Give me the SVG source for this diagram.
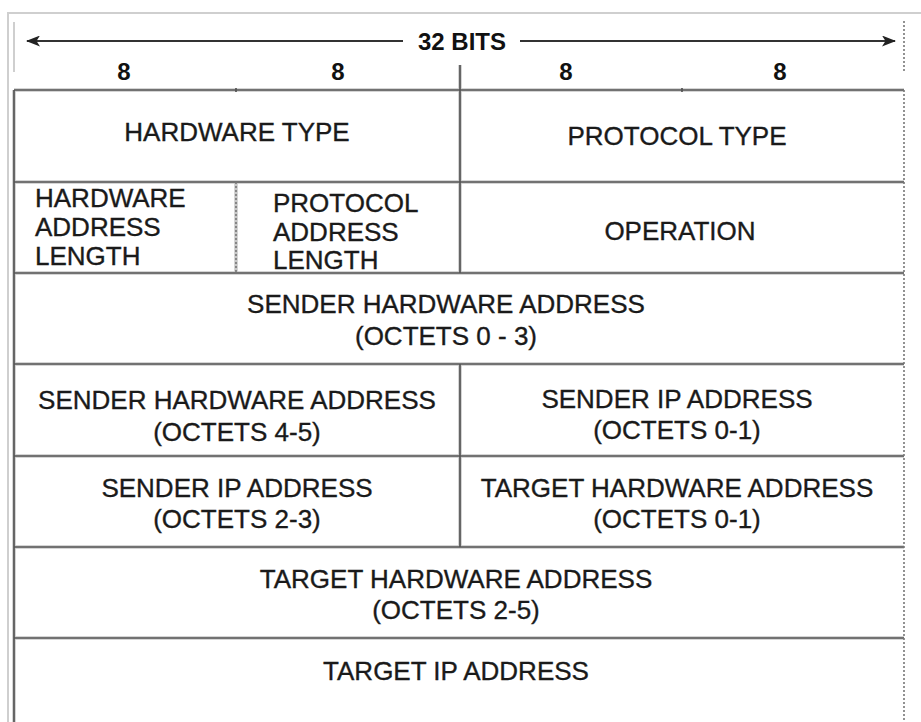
<svg xmlns="http://www.w3.org/2000/svg" width="921" height="722" viewBox="0 0 921 722">
  <style>
    .t { font-family: "Liberation Sans", Arial, Helvetica, sans-serif; font-size: 26px; fill: #1a1a1a; stroke: #1a1a1a; stroke-width: 0.35; }
    .c { text-anchor: middle; }
    .b { font-family: "Liberation Sans", Arial, Helvetica, sans-serif; font-weight: bold; font-size: 24px; fill: #111; text-anchor: middle; }
    .grid { stroke: #555; stroke-width: 1.7; fill: none; }
    .halo { stroke: #c8c8c8; stroke-width: 3.5; fill: none; }
    .frame { stroke: #cfcfcf; stroke-width: 2; fill: none; }
    .dot { stroke: #777; stroke-width: 1.6; stroke-dasharray: 2 2; fill: none; }
    .arrow { stroke: #333; stroke-width: 1.9; fill: none; }
  </style>
  <defs>
    <marker id="head" viewBox="0 0 14 11" refX="13" refY="5.5" markerWidth="14" markerHeight="11" markerUnits="userSpaceOnUse" orient="auto-start-reverse">
      <path d="M0,0 L14,5.5 L0,11 L3.5,5.5 Z" fill="#222"/>
    </marker>
  </defs>
  <rect width="921" height="722" fill="#fff"/>

  <!-- outer page frame -->
  <g id="frame">
    <path class="frame" d="M8,722 V13 H921"/>
    <path class="frame" d="M14,22 V72" stroke-width="1.5"/>
    <path class="dot" d="M904,21 V72"/>
  </g>

  <!-- width scale -->
  <g id="scale">
    <line class="arrow" x1="403" y1="41" x2="27" y2="41" marker-end="url(#head)"/>
    <line class="arrow" x1="520" y1="41" x2="895" y2="41" marker-end="url(#head)"/>
    <text class="b" x="462" y="50">32 BITS</text>
    <text class="b" x="124" y="80">8</text>
    <text class="b" x="338" y="80">8</text>
    <text class="b" x="566" y="80">8</text>
    <text class="b" x="780" y="80">8</text>
  </g>

  <!-- field boundaries -->
  <g id="connectors">
    <g class="halo">
      <path d="M14,90 H904 M14,182 H904 M14,273 H904 M14,364 H904 M14,456 H904 M14,547 H904 M14,638 H904"/>
      <path d="M460,65 V273 M236,182 V273 M460,364 V547 M14,90 V722"/>
    </g>
    <g class="grid">
      <path d="M14,90 H904 M14,182 H904 M14,273 H904 M14,364 H904 M14,456 H904 M14,547 H904 M14,638 H904"/>
      <path d="M460,65 V273 M460,364 V547 M14,90 V722"/>
    </g>
    <path class="dot" d="M236,182 V273"/>
    <path class="dot" d="M904,90 V722"/>
    <path class="grid" d="M236,88 V92 M682,88 V92"/>
  </g>

  <g id="hardware-type"><text class="t c" x="237" y="141">HARDWARE TYPE</text></g>
  <g id="protocol-type"><text class="t c" x="677" y="145">PROTOCOL TYPE</text></g>

  <g id="hardware-address-length">
    <text class="t" x="35" y="207">HARDWARE</text>
    <text class="t" x="35" y="236">ADDRESS</text>
    <text class="t" x="35" y="265">LENGTH</text>
  </g>
  <g id="protocol-address-length">
    <text class="t" x="273" y="212">PROTOCOL</text>
    <text class="t" x="273" y="241">ADDRESS</text>
    <text class="t" x="273" y="269">LENGTH</text>
  </g>
  <g id="operation"><text class="t c" x="680" y="240">OPERATION</text></g>

  <g id="sender-hw-0-3">
    <text class="t c" x="446" y="313">SENDER HARDWARE ADDRESS</text>
    <text class="t c" x="446" y="345">(OCTETS 0 - 3)</text>
  </g>

  <g id="sender-hw-4-5">
    <text class="t c" x="237" y="409">SENDER HARDWARE ADDRESS</text>
    <text class="t c" x="237" y="441">(OCTETS 4-5)</text>
  </g>
  <g id="sender-ip-0-1">
    <text class="t c" x="677" y="408">SENDER IP ADDRESS</text>
    <text class="t c" x="677" y="439">(OCTETS 0-1)</text>
  </g>

  <g id="sender-ip-2-3">
    <text class="t c" x="237" y="497">SENDER IP ADDRESS</text>
    <text class="t c" x="237" y="528">(OCTETS 2-3)</text>
  </g>
  <g id="target-hw-0-1">
    <text class="t c" x="677" y="497">TARGET HARDWARE ADDRESS</text>
    <text class="t c" x="677" y="528">(OCTETS 0-1)</text>
  </g>

  <g id="target-hw-2-5">
    <text class="t c" x="456" y="588">TARGET HARDWARE ADDRESS</text>
    <text class="t c" x="456" y="619">(OCTETS 2-5)</text>
  </g>

  <g id="target-ip"><text class="t c" x="456" y="680">TARGET IP ADDRESS</text></g>
</svg>
